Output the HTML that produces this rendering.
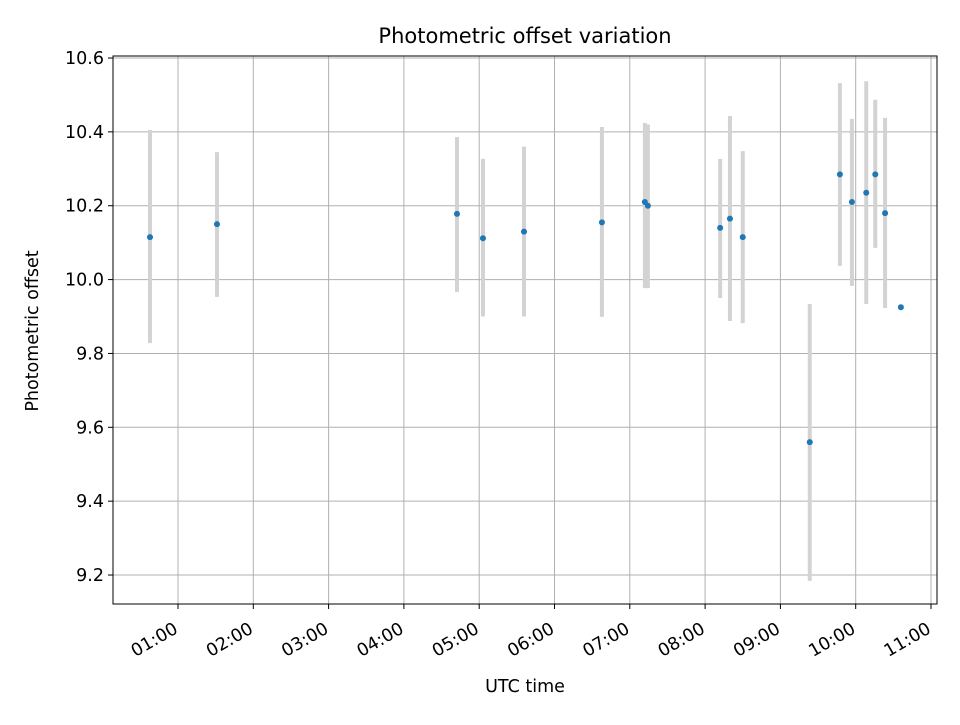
<!DOCTYPE html>
<html><head><meta charset="utf-8"><style>
body{margin:0;background:#fff;}
svg text{font-family:"DejaVu Sans","Liberation Sans",sans-serif;fill:#000;}
</style></head><body>
<svg id="chart" width="960" height="720" xmlns="http://www.w3.org/2000/svg">
<rect width="960" height="720" fill="#fff"/>
<g id="grid"></g><g id="bars"></g><g id="pts"></g><g id="axes"></g>
</svg>
<script>
const hours=[0.628,1.518,4.705,5.05,5.595,6.63,7.20,7.24,8.20,8.33,8.50,9.39,9.79,9.95,10.14,10.26,10.39,10.60];
const offsets=[10.115,10.15,10.178,10.112,10.13,10.155,10.21,10.20,10.14,10.165,10.115,9.56,10.285,10.21,10.235,10.285,10.18,9.925];
const errHigh=[10.405,10.345,10.386,10.327,10.36,10.413,10.424,10.42,10.327,10.443,10.348,9.934,10.532,10.435,10.537,10.487,10.438,null];
const errLow=[9.828,9.953,9.966,9.90,9.90,9.899,9.977,9.977,9.95,9.888,9.882,9.184,10.037,9.983,9.934,10.086,9.923,null];
const yTicks=[9.2,9.4,9.6,9.8,10.0,10.2,10.4,10.6];
const xTicks=[1,2,3,4,5,6,7,8,9,10,11];
const L=113,R=937,T=56,B=604;
const x=h=>178+(h-1)*75.3;
const y=v=>58+(10.6-v)*369.3;
const NS="http://www.w3.org/2000/svg";
function mk(tag,attrs,parent,text){const e=document.createElementNS(NS,tag);for(const k in attrs)e.setAttribute(k,attrs[k]);if(text!==undefined)e.textContent=text;document.getElementById(parent).appendChild(e);return e;}
xTicks.forEach(h=>{const g=mk('line',{x1:x(h),x2:x(h),y1:T,y2:B,stroke:'#b0b0b0','stroke-width':1},'grid');});
yTicks.forEach(v=>{const g=mk('line',{x1:L,x2:R,y1:y(v),y2:y(v),stroke:'#b0b0b0','stroke-width':1},'grid');});
hours.forEach((h,i)=>{if(errHigh[i]===null)return;const b=mk('line',{x1:x(h),x2:x(h),y1:y(errHigh[i]),y2:y(errLow[i]),stroke:'#d3d3d3','stroke-width':4},'bars');});
hours.forEach((h,i)=>{const p=mk('circle',{cx:x(h),cy:y(offsets[i]),r:3,fill:'#1f77b4'},'pts');});
const fr=mk('rect',{x:L,y:T,width:R-L,height:B-T,fill:'none',stroke:'#000','stroke-width':1},'axes');
yTicks.forEach(v=>{mk('line',{x1:L-5,x2:L,y1:y(v),y2:y(v),stroke:'#000'},'axes');const t=mk('text',{x:L-9,y:y(v)+6,'text-anchor':'end','font-size':17.5},'axes',v.toFixed(1));});
xTicks.forEach(h=>{mk('line',{x1:x(h),x2:x(h),y1:B,y2:B+5,stroke:'#000'},'axes');const lab=(h<10?'0':'')+h+':00';const ax=x(h)+1,ay=B+28;const t=mk('text',{x:ax,y:ay,'text-anchor':'end','font-size':17.5,transform:`rotate(-30 ${ax} ${ay})`},'axes',lab);});
let t=mk('text',{x:525,y:43,'text-anchor':'middle','font-size':21},'axes','Photometric offset variation');
t=mk('text',{x:525,y:692,'text-anchor':'middle','font-size':17.5},'axes','UTC time');
t=mk('text',{x:38,y:331,'text-anchor':'middle','font-size':17.5,transform:'rotate(-90 38 331)'},'axes','Photometric offset');
</script>
</body></html>
